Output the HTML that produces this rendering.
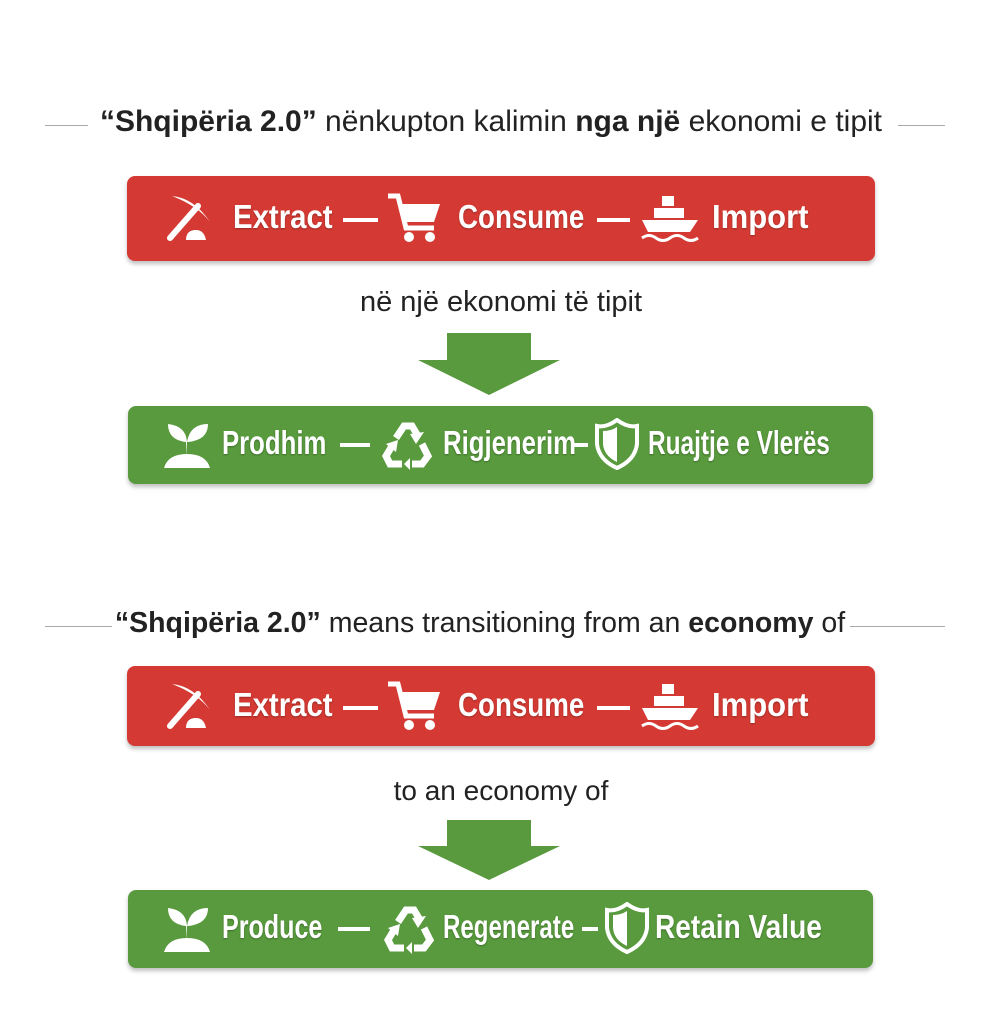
<!DOCTYPE html>
<html><head><meta charset="utf-8"><style>
body{margin:0;width:1002px;height:1024px;background:#fff;position:relative;overflow:hidden;font-family:"Liberation Sans",sans-serif}
.t{position:absolute;white-space:nowrap;color:#222}
.ln{position:absolute;height:1px;background:#aaa}
.bar{position:absolute;border-radius:8px;box-shadow:0 3px 4px rgba(0,0,0,.25)}
.red{background:#d43a33}
.grn{background:#589a3d}
.w{position:absolute;color:#fff;font-weight:bold;font-size:33px;white-space:nowrap;text-shadow:0 1px 2px rgba(0,0,0,.3);transform-origin:0 50%}
.d{position:absolute;height:4px;background:#fff}
svg.i{position:absolute}
.sub{position:absolute;font-size:29px;color:#222;white-space:nowrap}
</style></head><body>

<div class="ln" style="left:45px;width:43px;top:125px"></div>
<div class="ln" style="left:898px;width:47px;top:125px"></div>
<div class="t" style="left:60px;top:105px;width:862px;text-align:center;font-size:30px"><b>“Shqipëria 2.0”</b> nënkupton kalimin <b>nga një</b> ekonomi e tipit</div>

<div class="ln" style="left:45px;width:67px;top:626px"></div>
<div class="ln" style="left:850px;width:95px;top:626px"></div>
<div class="t" style="left:80px;top:607px;width:800px;text-align:center;font-size:28.5px"><b>“Shqipëria 2.0”</b> means transitioning from an <b>economy</b> of</div>

<div class="bar red" style="left:127px;top:176px;width:748px;height:85px"></div>
<div class="bar red" style="left:127px;top:666px;width:748px;height:80px"></div>

<div class="sub" style="left:0;width:1002px;text-align:center;top:286px">në një ekonomi të tipit</div>
<div class="sub" style="left:0;width:1002px;text-align:center;top:775px;font-size:28px">to an economy of</div>

<svg class="i" style="left:418px;top:333px" width="144" height="64"><polygon points="29,0 113,0 113,27 142,27 71,62 0,27 29,27" fill="#5a9a3f"/></svg>
<svg class="i" style="left:418px;top:820px" width="144" height="62"><polygon points="29,0 113,0 113,26 142,26 71,60 0,26 29,26" fill="#5a9a3f"/></svg>

<div class="bar grn" style="left:128px;top:406px;width:745px;height:78px"></div>
<div class="bar grn" style="left:128px;top:890px;width:745px;height:78px"></div>

<!-- bar 1 -->
<svg class="i" style="left:164px;top:192px" width="52" height="52" viewBox="0 0 52 52"><path d="M8 4 Q30 6 46 30 Q34 14 8 4Z" fill="#fff"/><line x1="34" y1="14" x2="6" y2="46" stroke="#fff" stroke-width="6" stroke-linecap="round"/><path d="M22 48 q0-10 10-10 q8 0 10 10z" fill="#fff"/></svg>
<div class="w" style="left:233px;top:198px;transform:scaleX(.89)">Extract</div>
<div class="d" style="left:343px;top:218px;width:35px"></div>
<svg class="i" style="left:386px;top:192px" width="56" height="52" viewBox="0 0 56 52"><path d="M2 4 H12 L20 36 H48" fill="none" stroke="#fff" stroke-width="5"/><path d="M14 12 H54 L48 30 H19z" fill="#fff"/><circle cx="23" cy="45" r="5" fill="#fff"/><circle cx="44" cy="45" r="5" fill="#fff"/></svg>
<div class="w" style="left:458px;top:198px;transform:scaleX(.84)">Consume</div>
<div class="d" style="left:597px;top:218px;width:33px"></div>
<svg class="i" style="left:640px;top:192px" width="60" height="52" viewBox="0 0 60 52"><rect x="22" y="4" width="12" height="10" fill="#fff"/><rect x="14" y="16" width="30" height="10" fill="#fff"/><path d="M2 28 H58 L50 40 H8z" fill="#fff"/><path d="M2 46 q7-5 14 0 t14 0 t14 0 t14 0" fill="none" stroke="#fff" stroke-width="3"/></svg>
<div class="w" style="left:712px;top:198px;transform:scaleX(.94)">Import</div>

<!-- bar 2 -->
<svg class="i" style="left:164px;top:680px" width="52" height="52" viewBox="0 0 52 52"><path d="M8 4 Q30 6 46 30 Q34 14 8 4Z" fill="#fff"/><line x1="34" y1="14" x2="6" y2="46" stroke="#fff" stroke-width="6" stroke-linecap="round"/><path d="M22 48 q0-10 10-10 q8 0 10 10z" fill="#fff"/></svg>
<div class="w" style="left:233px;top:686px;transform:scaleX(.89)">Extract</div>
<div class="d" style="left:343px;top:706px;width:35px"></div>
<svg class="i" style="left:386px;top:680px" width="56" height="52" viewBox="0 0 56 52"><path d="M2 4 H12 L20 36 H48" fill="none" stroke="#fff" stroke-width="5"/><path d="M14 12 H54 L48 30 H19z" fill="#fff"/><circle cx="23" cy="45" r="5" fill="#fff"/><circle cx="44" cy="45" r="5" fill="#fff"/></svg>
<div class="w" style="left:458px;top:686px;transform:scaleX(.84)">Consume</div>
<div class="d" style="left:597px;top:706px;width:33px"></div>
<svg class="i" style="left:640px;top:680px" width="60" height="52" viewBox="0 0 60 52"><rect x="22" y="4" width="12" height="10" fill="#fff"/><rect x="14" y="16" width="30" height="10" fill="#fff"/><path d="M2 28 H58 L50 40 H8z" fill="#fff"/><path d="M2 46 q7-5 14 0 t14 0 t14 0 t14 0" fill="none" stroke="#fff" stroke-width="3"/></svg>
<div class="w" style="left:712px;top:686px;transform:scaleX(.94)">Import</div>

<!-- green 1 -->
<svg class="i" style="left:160px;top:418px" width="54" height="52" viewBox="0 0 54 52"><path d="M27 38 V24 Q26 8 8 6 Q8 22 26 24" fill="#fff"/><path d="M27 24 Q30 6 48 6 Q48 22 28 24" fill="#fff"/><path d="M4 50 Q8 36 27 36 Q46 36 50 50z" fill="#fff"/></svg>
<div class="w" style="left:222px;top:424px;transform:scaleX(.78)">Prodhim</div>
<div class="d" style="left:340px;top:443px;width:30px"></div>
<svg class="i" style="left:380px;top:418px" width="54" height="52" viewBox="0 0 54 52"><g fill="none" stroke="#fff" stroke-width="7"><path d="M16 20 L24 8 L32 8 L38 18"/><path d="M42 26 L48 38 L42 46 H32"/><path d="M22 46 H10 L6 38 L12 28"/></g><polygon points="44,14 36,26 30,16" fill="#fff"/><polygon points="30,40 30,52 24,46" fill="#fff"/><polygon points="6,26 18,22 16,34" fill="#fff"/></svg>
<div class="w" style="left:443px;top:424px;transform:scaleX(.78)">Rigjenerim</div>
<div class="d" style="left:572px;top:443px;width:16px"></div>
<svg class="i" style="left:594px;top:418px" width="46" height="52" viewBox="0 0 46 52"><path d="M23 2 Q12 10 3 8 V26 Q5 42 23 50 Q41 42 43 26 V8 Q34 10 23 2Z" fill="none" stroke="#fff" stroke-width="4"/><path d="M23 9 V44 Q10 38 9 26 V13 Q17 13 23 9Z" fill="#fff"/></svg>
<div class="w" style="left:648px;top:424px;transform:scaleX(.74)">Ruajtje e Vlerës</div>

<!-- green 2 -->
<svg class="i" style="left:160px;top:902px" width="54" height="52" viewBox="0 0 54 52"><path d="M27 38 V24 Q26 8 8 6 Q8 22 26 24" fill="#fff"/><path d="M27 24 Q30 6 48 6 Q48 22 28 24" fill="#fff"/><path d="M4 50 Q8 36 27 36 Q46 36 50 50z" fill="#fff"/></svg>
<div class="w" style="left:222px;top:908px;transform:scaleX(.76)">Produce</div>
<div class="d" style="left:338px;top:927px;width:32px"></div>
<svg class="i" style="left:382px;top:902px" width="54" height="52" viewBox="0 0 54 52"><g fill="none" stroke="#fff" stroke-width="7"><path d="M16 20 L24 8 L32 8 L38 18"/><path d="M42 26 L48 38 L42 46 H32"/><path d="M22 46 H10 L6 38 L12 28"/></g><polygon points="44,14 36,26 30,16" fill="#fff"/><polygon points="30,40 30,52 24,46" fill="#fff"/><polygon points="6,26 18,22 16,34" fill="#fff"/></svg>
<div class="w" style="left:443px;top:908px;transform:scaleX(.73)">Regenerate</div>
<div class="d" style="left:582px;top:927px;width:16px"></div>
<svg class="i" style="left:604px;top:902px" width="46" height="52" viewBox="0 0 46 52"><path d="M23 2 Q12 10 3 8 V26 Q5 42 23 50 Q41 42 43 26 V8 Q34 10 23 2Z" fill="none" stroke="#fff" stroke-width="4"/><path d="M23 9 V44 Q10 38 9 26 V13 Q17 13 23 9Z" fill="#fff"/></svg>
<div class="w" style="left:655px;top:908px;transform:scaleX(.85)">Retain Value</div>
</body></html>
